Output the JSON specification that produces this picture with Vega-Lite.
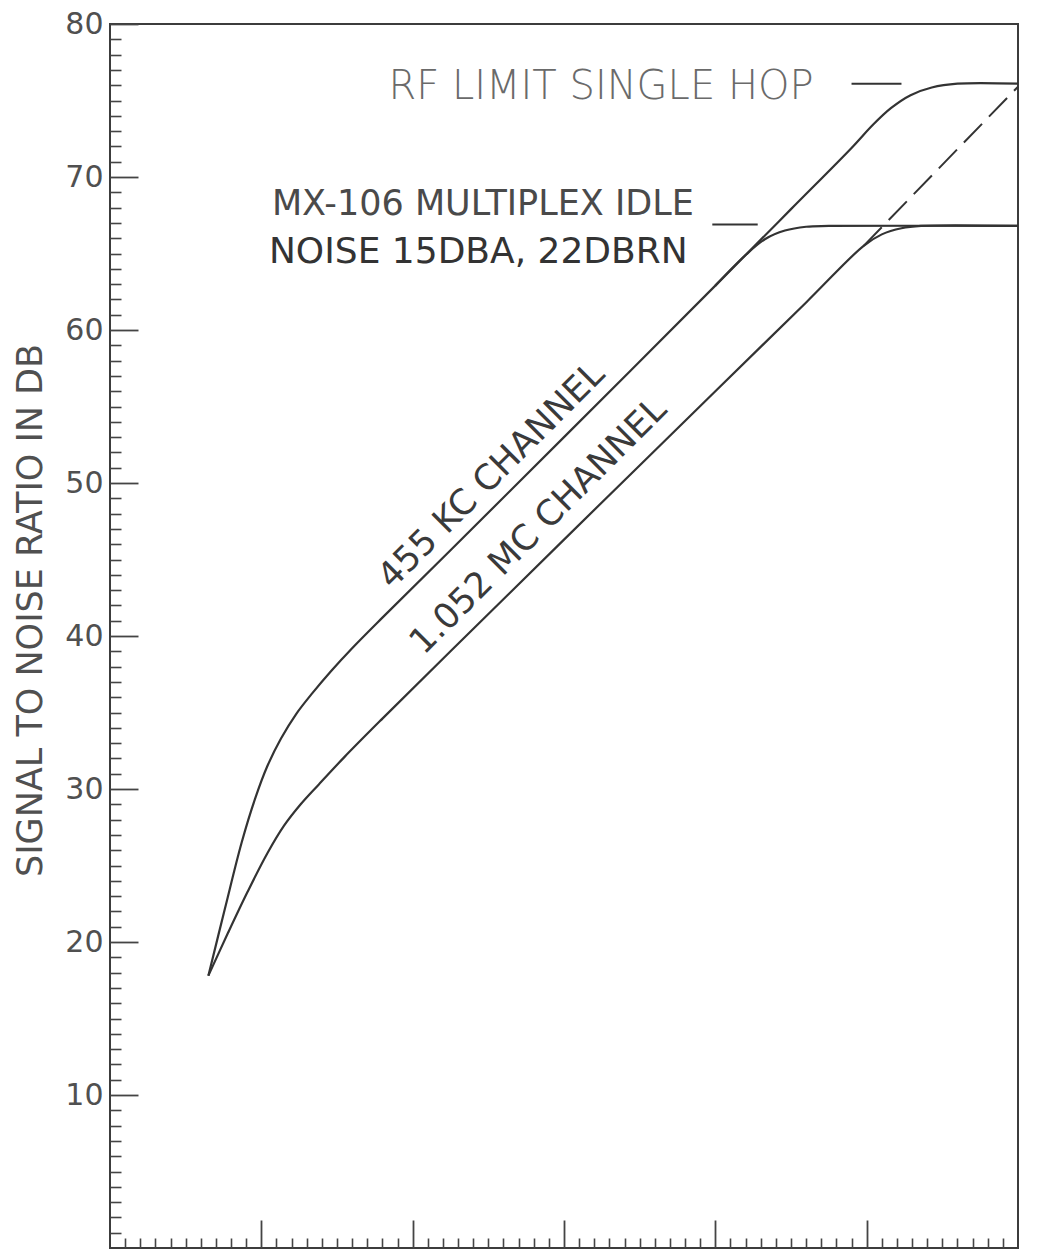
{
  "$schema": "https://vega.github.io/schema/vega-lite/v6.json",
  "width": 908,
  "height": 1224,
  "autosize": {"type": "none"},
  "padding": {"left": 110, "top": 24, "right": 24, "bottom": 1},
  "background": "white",
  "config": {
    "view": {"stroke": "#3c3c3c", "strokeWidth": 2},
    "axis": {"grid": false, "domain": false},
    "font": "DejaVu Sans"
  },
  "datasets": {
    "solid": [
      {"series": "455 KC RF", "x": 6.5, "y": 17.8},
      {"series": "455 KC RF", "x": 7.6, "y": 22.2},
      {"series": "455 KC RF", "x": 8.7, "y": 26.5},
      {"series": "455 KC RF", "x": 9.6, "y": 29.4},
      {"series": "455 KC RF", "x": 10.4, "y": 31.5},
      {"series": "455 KC RF", "x": 11.3, "y": 33.3},
      {"series": "455 KC RF", "x": 12.3, "y": 34.9},
      {"series": "455 KC RF", "x": 13.4, "y": 36.3},
      {"series": "455 KC RF", "x": 14.6, "y": 37.7},
      {"series": "455 KC RF", "x": 16.0, "y": 39.2},
      {"series": "455 KC RF", "x": 18.0, "y": 41.2},
      {"series": "455 KC RF", "x": 22.5, "y": 45.6},
      {"series": "455 KC RF", "x": 30.0, "y": 53.0},
      {"series": "455 KC RF", "x": 40.0, "y": 62.9},
      {"series": "455 KC RF", "x": 45.0, "y": 67.9},
      {"series": "455 KC RF", "x": 49.0, "y": 71.9},
      {"series": "455 KC RF", "x": 50.4, "y": 73.4},
      {"series": "455 KC RF", "x": 51.6, "y": 74.5},
      {"series": "455 KC RF", "x": 52.9, "y": 75.35},
      {"series": "455 KC RF", "x": 54.3, "y": 75.85},
      {"series": "455 KC RF", "x": 56.0, "y": 76.1},
      {"series": "455 KC RF", "x": 60.0, "y": 76.1},
      {"series": "455 KC MX", "x": 40.0, "y": 62.9},
      {"series": "455 KC MX", "x": 42.0, "y": 64.9},
      {"series": "455 KC MX", "x": 43.3, "y": 65.95},
      {"series": "455 KC MX", "x": 44.6, "y": 66.5},
      {"series": "455 KC MX", "x": 46.0, "y": 66.75},
      {"series": "455 KC MX", "x": 47.5, "y": 66.8},
      {"series": "455 KC MX", "x": 60.0, "y": 66.8},
      {"series": "1.052 MC", "x": 6.5, "y": 17.8},
      {"series": "1.052 MC", "x": 7.8, "y": 20.6},
      {"series": "1.052 MC", "x": 9.1, "y": 23.3},
      {"series": "1.052 MC", "x": 10.4, "y": 25.8},
      {"series": "1.052 MC", "x": 11.5, "y": 27.6},
      {"series": "1.052 MC", "x": 12.6, "y": 29.0},
      {"series": "1.052 MC", "x": 13.8, "y": 30.3},
      {"series": "1.052 MC", "x": 15.5, "y": 32.1},
      {"series": "1.052 MC", "x": 18.0, "y": 34.6},
      {"series": "1.052 MC", "x": 22.5, "y": 39.0},
      {"series": "1.052 MC", "x": 30.0, "y": 46.3},
      {"series": "1.052 MC", "x": 40.0, "y": 56.0},
      {"series": "1.052 MC", "x": 46.0, "y": 61.8},
      {"series": "1.052 MC", "x": 49.8, "y": 65.5},
      {"series": "1.052 MC", "x": 51.0, "y": 66.25},
      {"series": "1.052 MC", "x": 52.3, "y": 66.65},
      {"series": "1.052 MC", "x": 53.6, "y": 66.8},
      {"series": "1.052 MC", "x": 60.0, "y": 66.8}
    ],
    "dashed": [
      {"series": "1.052 MC RF", "x": 49.8, "y": 65.5},
      {"series": "1.052 MC RF", "x": 60.0, "y": 75.9}
    ],
    "leaders": [
      {"x": 49.0, "x2": 52.3, "y": 76.1},
      {"x": 39.8, "x2": 42.8, "y": 66.9}
    ],
    "rf": [{"text": "RF LIMIT SINGLE HOP", "x": 18.4, "y": 75.9}],
    "mx": [{"text": "MX-106 MULTIPLEX IDLE", "x": 10.7, "y": 68.25}],
    "noise": [{"text": "NOISE 15DBA, 22DBRN", "x": 10.5, "y": 65.1}],
    "diag": [
      {"text": "455 KC CHANNEL", "x": 25.2, "y": 50.5},
      {"text": "1.052 MC CHANNEL", "x": 28.3, "y": 47.2}
    ]
  },
  "layer": [
    {
      "data": {"name": "solid"},
      "mark": {"type": "line", "interpolate": "catmull-rom", "color": "#333333", "strokeWidth": 2.2},
      "encoding": {
        "x": {"field": "x", "type": "quantitative", "scale": {"domain": [0, 60], "nice": false, "zero": false},
          "axis": {"orient": "bottom", "values": [1,2,3,4,5,6,7,8,9,11,12,13,14,15,16,17,18,19,21,22,23,24,25,26,27,28,29,31,32,33,34,35,36,37,38,39,41,42,43,44,45,46,47,48,49,51,52,53,54,55,56,57,58,59], "tickSize": -10, "labels": false, "title": null, "tickColor": "#444444", "tickWidth": 1.6}},
        "y": {"field": "y", "type": "quantitative", "scale": {"domain": [0, 80], "nice": false, "zero": false},
          "axis": {"orient": "left", "values": [1,2,3,4,5,6,7,8,9,11,12,13,14,15,16,17,18,19,21,22,23,24,25,26,27,28,29,31,32,33,34,35,36,37,38,39,41,42,43,44,45,46,47,48,49,51,52,53,54,55,56,57,58,59,61,62,63,64,65,66,67,68,69,71,72,73,74,75,76,77,78,79], "tickSize": -11, "labels": false, "title": null, "tickColor": "#444444", "tickWidth": 1.6}},
        "detail": {"field": "series"}
      }
    },
    {
      "data": {"name": "dashed"},
      "mark": {"type": "line", "color": "#333333", "strokeWidth": 2, "strokeDash": [26, 10]},
      "encoding": {
        "x": {"field": "x", "type": "quantitative", "scale": {"domain": [0, 60], "nice": false, "zero": false},
          "axis": {"orient": "bottom", "values": [10, 20, 30, 40, 50], "tickSize": -28, "labels": false, "title": null, "tickColor": "#444444", "tickWidth": 1.8}},
        "y": {"field": "y", "type": "quantitative", "scale": {"domain": [0, 80], "nice": false, "zero": false},
          "axis": {"orient": "left", "values": [10, 20, 30, 40, 50, 60, 70, 80], "tickSize": -28, "labels": false, "title": null, "tickColor": "#444444", "tickWidth": 1.8}},
        "detail": {"field": "series"}
      }
    },
    {
      "data": {"name": "mx"},
      "mark": {"type": "text", "align": "left", "baseline": "middle", "fontSize": 35, "color": "#4a4a4a"},
      "encoding": {
        "x": {"field": "x", "type": "quantitative", "scale": {"domain": [0, 60], "nice": false, "zero": false}, "axis": null},
        "y": {"field": "y", "type": "quantitative", "scale": {"domain": [0, 80], "nice": false, "zero": false},
          "axis": {"orient": "left", "values": [10, 20, 30, 40, 50, 60, 70, 80], "ticks": false, "labels": true, "labelFontSize": 30, "labelPadding": 7, "labelColor": "#505050", "labelFont": "DejaVu Sans",
            "title": "SIGNAL TO NOISE RATIO IN DB", "titleFontSize": 35, "titleFontWeight": "normal", "titleColor": "#505050", "titleFont": "DejaVu Sans", "titleX": -80, "titleY": 586, "titleAngle": -90, "titleAlign": "center", "titleBaseline": "middle"}},
        "text": {"field": "text"}
      }
    },
    {
      "data": {"name": "noise"},
      "mark": {"type": "text", "align": "left", "baseline": "middle", "fontSize": 36, "color": "#333333"},
      "encoding": {
        "x": {"field": "x", "type": "quantitative", "scale": {"domain": [0, 60], "nice": false, "zero": false}, "axis": null},
        "y": {"field": "y", "type": "quantitative", "scale": {"domain": [0, 80], "nice": false, "zero": false}, "axis": null},
        "text": {"field": "text"}
      }
    },
    {
      "data": {"name": "rf"},
      "mark": {"type": "text", "align": "left", "baseline": "middle", "fontSize": 40, "color": "#6a6a6a", "fontWeight": 300},
      "encoding": {
        "x": {"field": "x", "type": "quantitative", "scale": {"domain": [0, 60], "nice": false, "zero": false}, "axis": null},
        "y": {"field": "y", "type": "quantitative", "scale": {"domain": [0, 80], "nice": false, "zero": false}, "axis": null},
        "text": {"field": "text"}
      }
    },
    {
      "data": {"name": "diag"},
      "mark": {"type": "text", "align": "center", "baseline": "middle", "fontSize": 35, "angle": -45, "color": "#3a3a3a"},
      "encoding": {
        "x": {"field": "x", "type": "quantitative", "scale": {"domain": [0, 60], "nice": false, "zero": false}, "axis": null},
        "y": {"field": "y", "type": "quantitative", "scale": {"domain": [0, 80], "nice": false, "zero": false}, "axis": null},
        "text": {"field": "text"}
      }
    },
    {
      "data": {"name": "leaders"},
      "mark": {"type": "rule", "color": "#333333", "strokeWidth": 2},
      "encoding": {
        "x": {"field": "x", "type": "quantitative", "scale": {"domain": [0, 60], "nice": false, "zero": false}, "axis": null},
        "x2": {"field": "x2"},
        "y": {"field": "y", "type": "quantitative", "scale": {"domain": [0, 80], "nice": false, "zero": false}, "axis": null}
      }
    }
  ],
  "resolve": {"axis": {"x": "independent", "y": "independent"}}
}
